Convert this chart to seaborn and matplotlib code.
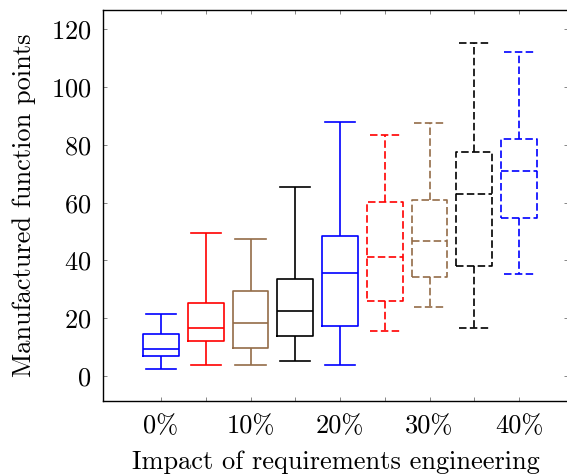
import numpy as np
import pandas as pd
import matplotlib
matplotlib.use("Agg")
import matplotlib.pyplot as plt
import seaborn as sns

# ---- data ----
impact = [0, 5, 10, 15, 20, 25, 30, 35, 40]
impact_labels = ["0%", "5%", "10%", "15%", "20%", "25%", "30%", "35%", "40%"]
lower_whisker = [2.3, 3.9, 3.9, 5.1, 3.9, 15.5, 23.8, 16.6, 35.3]
q1 = [7.0, 12.1, 9.8, 13.7, 17.2, 26.0, 34.3, 38.0, 54.6]
median = [9.3, 16.5, 18.3, 22.6, 35.8, 41.3, 46.9, 62.9, 71.0]
q3 = [14.4, 25.4, 29.6, 33.6, 48.4, 60.1, 61.1, 77.5, 82.0]
upper_whisker = [21.4, 49.5, 47.3, 65.4, 87.9, 83.6, 87.5, 115.4, 112.2]
box_colors = ["#0000ff", "#ff0000", "#946c48", "#000000", "#0000ff",
              "#ff0000", "#946c48", "#000000", "#0000ff"]
dashed = [False, False, False, False, False, True, True, True, True]
tick_labels = ["0%", "", "10%", "", "20%", "", "30%", "", "40%"]
y_ticks = [0, 20, 40, 60, 80, 100, 120]

rows = []
for i, imp in enumerate(impact):
    for v in (lower_whisker[i], q1[i], median[i], q3[i], upper_whisker[i]):
        rows.append({"impact": imp, "label": impact_labels[i], "fp": v,
                     "dashed": dashed[i]})
df = pd.DataFrame(rows)
palette = dict(zip(impact_labels, box_colors))

plt.rcParams["font.family"] = ["cmr10", "DejaVu Serif"]
plt.rcParams["mathtext.fontset"] = "cm"
plt.rcParams["axes.formatter.use_mathtext"] = True

fig = plt.figure(figsize=(5.67, 4.75), dpi=100)
ax = fig.add_axes([0.1822, 0.1564, 0.8201, 0.8225])

for is_dashed, ls in [(False, "-"), (True, (0, (4.5, 2)))]:
    sub = df[df["dashed"] == is_dashed]
    labs = list(dict.fromkeys(sub["label"]))
    props = dict(linestyle=ls)
    sns.boxplot(data=sub, x="impact", y="fp", hue="label", hue_order=labs,
                palette={k: palette[k] for k in labs}, native_scale=True,
                fill=False, whis=(0, 100), width=0.8, dodge=False,
                legend=False, linewidth=1.2, boxprops=props,
                whiskerprops=props, capprops=props, medianprops=props, ax=ax)

# widen caps to match the reference
for ln in ax.lines:
    x = np.asarray(ln.get_xdata(), dtype=float)
    y = np.asarray(ln.get_ydata(), dtype=float)
    if len(x) == 2 and y[0] == y[1]:
        ext = abs(x[1] - x[0])
        if 0 < ext < 3.0:
            c = x.mean()
            ln.set_xdata([c - 1.7, c + 1.7])

ax.set_xlim(-6.45, 45.51)
ax.set_ylim(-8.55, 126.7)
ax.set_xticks(impact)
ax.set_xticklabels(tick_labels)
ax.set_yticks(y_ticks)
ax.tick_params(direction="in", top=True, right=True, length=2.8, width=0.6,
               color="0.45", labelsize=19)
ax.tick_params(axis="x", pad=10.2)
ax.tick_params(axis="y", pad=8.7)
for s in ax.spines.values():
    s.set_linewidth(1.0)
    s.set_color("black")
ax.set_xlabel("Impact of requirements engineering", fontsize=19, labelpad=8.5)
ax.set_ylabel("Manufactured function points", fontsize=19, labelpad=10.3)

fig.savefig("out.png", dpi=100)
